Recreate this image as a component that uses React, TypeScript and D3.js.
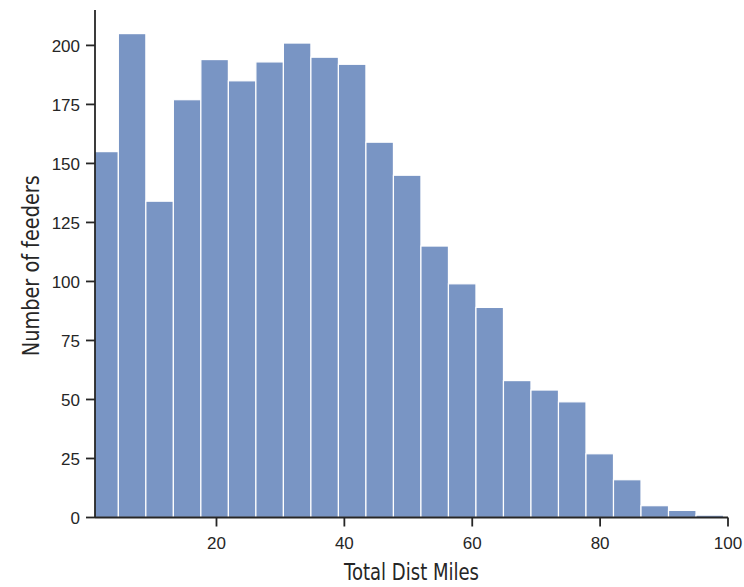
import React from "react";
import * as d3 from "d3";

// Histogram of total distribution miles per feeder
const binStart = 0.35;
const binEnd = 99.3;
const counts = [155, 205, 134, 177, 194, 185, 193, 201, 195, 192, 159, 145, 115, 99, 89, 58, 54, 49, 27, 16, 5, 3, 1];
const xTicks = [20, 40, 60, 80, 100];
const yTicks = [0, 25, 50, 75, 100, 125, 150, 175, 200];
const xLabel = "Total Dist Miles";
const yLabel = "Number of feeders";

const W = 744;
const H = 587;
const left = 95;
const right = 728;
const top = 10;
const bottom = 517.5;

export default function App() {
  const x = d3.scaleLinear().domain([1, 100]).range([left, right]);
  const y = d3.scaleLinear().domain([0, 215]).range([bottom, top]);
  const binW = (binEnd - binStart) / counts.length;
  const bins = counts.map((c, i) => ({ x0: binStart + i * binW, x1: binStart + (i + 1) * binW, c }));
  const axisColor = "#262626";
  const tickFont = "Liberation Sans, Arial, sans-serif";
  const labelFont = "DejaVu Sans, sans-serif";

  return (
    <svg width={W} height={H} style={{ position: "absolute", left: 0, top: 0, background: "#fff" }}>
      <defs>
        <clipPath id="plotArea">
          <rect x={left} y={top} width={right - left} height={bottom - top} />
        </clipPath>
      </defs>
      <g clipPath="url(#plotArea)">
        {bins.map((b, i) => (
          <rect
            key={i}
            x={x(b.x0)}
            y={y(b.c)}
            width={x(b.x1) - x(b.x0)}
            height={y(0) - y(b.c)}
            fill="#7995c4"
            stroke="#ffffff"
            strokeWidth={1.2}
          />
        ))}
      </g>
      {/* y axis */}
      <line x1={left} x2={left} y1={top} y2={bottom} stroke={axisColor} strokeWidth={1.8} />
      {yTicks.map((t) => (
        <g key={t} transform={`translate(0,${y(t)})`}>
          <line x1={left - 9} x2={left} stroke={axisColor} strokeWidth={1.8} />
          <text x={left - 15} dy="0.36em" textAnchor="end" fontFamily={tickFont} fontSize={17} fill={axisColor}>
            {t}
          </text>
        </g>
      ))}
      {/* x axis */}
      <line x1={left} x2={right} y1={bottom} y2={bottom} stroke={axisColor} strokeWidth={1.8} />
      {xTicks.map((t) => (
        <g key={t} transform={`translate(${x(t)},0)`}>
          <line y1={bottom} y2={bottom + 9} stroke={axisColor} strokeWidth={1.8} />
          <text y={bottom + 31.5} textAnchor="middle" fontFamily={tickFont} fontSize={17} fill={axisColor}>
            {t}
          </text>
        </g>
      ))}
      <text
        x={(left + right) / 2}
        y={580}
        textAnchor="middle"
        fontFamily={labelFont}
        fontSize={23}
        textLength={135}
        lengthAdjust="spacingAndGlyphs"
        fill={axisColor}
      >
        {xLabel}
      </text>
      <text
        transform={`translate(39,${(top + bottom) / 2 + 2}) rotate(-90)`}
        textAnchor="middle"
        fontFamily={labelFont}
        fontSize={23}
        textLength={181}
        lengthAdjust="spacingAndGlyphs"
        fill={axisColor}
      >
        {yLabel}
      </text>
    </svg>
  );
}
